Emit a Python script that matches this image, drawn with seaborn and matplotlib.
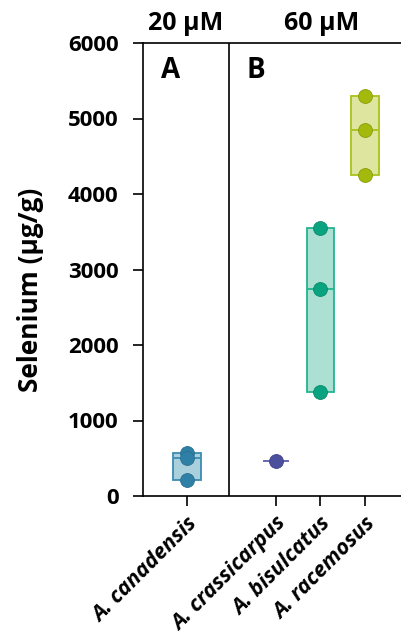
import matplotlib
matplotlib.use("Agg")
import matplotlib.pyplot as plt
import seaborn as sns
import pandas as pd
import numpy as np

# ---- data ----
species = ["A. canadensis", "A. crassicarpus", "A. bisulcatus", "A. racemosus"]
canadensis = [570, 505, 210]
crassicarpus = [465]
bisulcatus = [3550, 2745, 1380]
racemosus = [5295, 4845, 4250]
concentrations = ["20 µM", "60 µM"]
panels = ["A", "B"]
yticks = [0, 1000, 2000, 3000, 4000, 5000, 6000]

dot_colors = ["#2f80a6", "#4b4f9c", "#0aa37f", "#a3b90b"]
fill_colors = ["#abd0dd", "#c9cbe6", "#abe0d3", "#dde59f"]
edge_colors = ["#3b8cb2", "#5a5ea8", "#22b490", "#a9c21a"]
dot_edges = ["#2a6f90", "#3e4288", "#0b8a6c", "#8a9c0a"]

values = [canadensis, crassicarpus, bisulcatus, racemosus]
df = pd.DataFrame({
    "species": np.repeat(species, [len(v) for v in values]),
    "se": np.concatenate(values),
})

order = [species[0], "_gap", species[1], species[2], species[3]]

sns.set_style("ticks")
plt.rcParams["font.family"] = ["Open Sans", "DejaVu Sans"]
plt.rcParams["font.weight"] = "bold"
for k in ["text.color", "axes.labelcolor", "xtick.color", "ytick.color"]:
    plt.rcParams[k] = "black"

fig = plt.figure(figsize=(4.01, 6.42), dpi=100)
ax = fig.add_axes([143 / 401, 146 / 642, 1 - 143 / 401, 453 / 642])

# range boxes with median line
for sp, v, fc, ec in zip(species, values, fill_colors, edge_colors):
    pos = order.index(sp)
    lo, hi, med = min(v), max(v), float(np.median(v))
    if hi > lo:
        ax.bar(pos, hi - lo, bottom=lo, width=0.62, color=fc, edgecolor=ec,
               linewidth=1.3, zorder=2)
    ax.hlines(med, pos - 0.3, pos + 0.3, color=ec, linewidth=1.3, zorder=2.5)

for sp, c, e in zip(species, dot_colors, dot_edges):
    sub = df[df["species"] == sp]
    sns.stripplot(data=sub, x="species", y="se", order=order, color=c,
                  jitter=False, size=10, linewidth=0.6, edgecolor=e,
                  legend=False, ax=ax, zorder=3)

ax.set_xlim(-0.99, 4.81)
ax.set_ylim(0, 6000)
ax.set_yticks(yticks)
ax.set_yticklabels([str(t) for t in yticks], fontsize=16, fontweight="bold")
ax.set_xticks([order.index(s) for s in species])
ax.set_xticklabels(species, rotation=45, ha="right", rotation_mode="anchor",
                   fontsize=15.5, fontweight="bold", fontstyle="italic")
ax.set_xlabel("")
ax.set_ylabel("Selenium (µg/g)", fontsize=19, fontweight="bold")
ax.yaxis.set_label_coords(-0.385, 0.455)

for s in ["left", "bottom", "top"]:
    ax.spines[s].set_visible(True)
    ax.spines[s].set_linewidth(1.2)
    ax.spines[s].set_color("black")
ax.spines["right"].set_visible(False)
ax.tick_params(axis="both", direction="out", length=7.5, width=1.2, color="black")
ax.tick_params(axis="y", pad=10)
ax.tick_params(axis="x", pad=5)

ax.axvline(0.95, color="black", linewidth=1.2, zorder=1)

ax.text(-0.38, 5640, panels[0], fontsize=20, fontweight="bold", ha="center", va="center")
ax.text(1.55, 5640, panels[1], fontsize=20, fontweight="bold", ha="center", va="center")

fig.text(186 / 401, 1 - 24 / 642, concentrations[0], fontsize=18, fontweight="bold",
         ha="center", va="center")
fig.text(322 / 401, 1 - 24 / 642, concentrations[1], fontsize=18, fontweight="bold",
         ha="center", va="center")

fig.savefig("out.png", dpi=100)
